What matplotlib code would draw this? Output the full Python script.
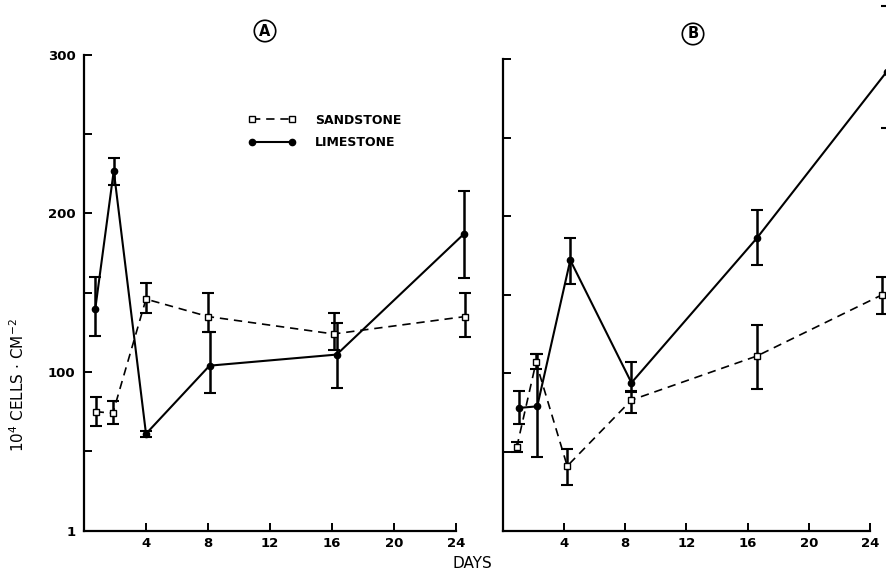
import numpy as np
import matplotlib
matplotlib.use("Agg")
import matplotlib.pyplot as plt

# --- datos (10^4 celulas / cm^2) ---
# panel A
a_sand_days = [0.75, 1.86, 4.0, 8.0, 16.1, 24.6]
a_sand_vals = [75, 74, 146, 135, 124, 135]
a_sand_lo = [9, 7, 9, 10, 10, 13]
a_sand_hi = [9, 8, 10, 15, 13, 15]

a_lime_days = [0.73, 1.92, 4.0, 8.1, 16.3, 24.5]
a_lime_vals = [140, 227, 61, 104, 111, 187]
a_lime_lo = [17, 9, 2, 17, 21, 28]
a_lime_hi = [20, 8, 2, 21, 20, 27]

# panel B
b_sand_days = [0.9, 2.16, 4.2, 8.4, 16.6, 24.8]
b_sand_vals = [53, 107, 41, 83, 111, 150]
b_sand_lo = [3, 4, 12, 8, 21, 12]
b_sand_hi = [3, 5, 11, 5, 20, 11]

b_lime_days = [1.05, 2.24, 4.4, 8.4, 16.6, 25.1]
b_lime_vals = [78, 79, 172, 94, 186, 292]
b_lime_lo = [10, 32, 15, 5, 17, 36]
b_lime_hi = [11, 33, 14, 13, 18, 42]

x_ticks = [4, 8, 12, 16, 20, 24]
y_ticks = [0, 50, 100, 150, 200, 250, 300]
y_labels_a = ["1", "", "100", "", "200", "", "300"]

plt.rcParams["font.family"] = ["DejaVu Sans"]

fig = plt.figure(figsize=(8.87, 5.78), dpi=100)
W, H = 887.0, 578.0


def make_axes(x0, x24, y0, y300):
    return fig.add_axes([x0 / W, (H - y0) / H, (x24 - x0) / W, (y0 - y300) / H])


ax_a = make_axes(84, 456, 530.5, 55)
ax_b = make_axes(503, 870, 530.5, 59)


def draw_series(ax, days, vals, lo, hi, sandstone, label):
    if sandstone:
        style = dict(color="black", lw=1.2, ls=(0, (5, 3.5)), marker="s", ms=4,
                     mfc="white", mec="black", mew=1.0)
    else:
        style = dict(color="black", lw=1.5, ls="-", marker="o", ms=4.5,
                     mfc="black", mec="black")
    ax.plot(days, vals, label=label, clip_on=False, zorder=3, **style)
    eb = ax.errorbar(days, vals, yerr=[lo, hi], fmt="none", ecolor="black",
                     elinewidth=1.8, capsize=4, capthick=1.5, zorder=2)
    for artist in eb.lines[1] + eb.lines[2]:
        artist.set_clip_on(False)


draw_series(ax_a, a_sand_days, a_sand_vals, a_sand_lo, a_sand_hi, True, "SANDSTONE")
draw_series(ax_a, a_lime_days, a_lime_vals, a_lime_lo, a_lime_hi, False, "LIMESTONE")
draw_series(ax_b, b_sand_days, b_sand_vals, b_sand_lo, b_sand_hi, True, "SANDSTONE")
draw_series(ax_b, b_lime_days, b_lime_vals, b_lime_lo, b_lime_hi, False, "LIMESTONE")

for ax in (ax_a, ax_b):
    ax.set_xlim(0, 24)
    ax.set_ylim(0, 300)
    ax.set_xticks(x_ticks)
    ax.set_xticklabels([str(t) for t in x_ticks], fontsize=9.5, fontweight="bold")
    ax.set_yticks(y_ticks)
    ax.spines["top"].set_visible(False)
    ax.spines["right"].set_visible(False)
    ax.spines["left"].set_linewidth(1.6)
    ax.spines["bottom"].set_linewidth(1.6)
    ax.tick_params(direction="in", length=6, width=1.4, pad=5)
    ax.patch.set_alpha(0)

ax_a.set_yticklabels(y_labels_a, fontsize=9.5, fontweight="bold")
ax_a.tick_params(axis="y", pad=6)
ax_b.set_yticklabels([])

leg = ax_a.legend(loc="upper left", bbox_to_anchor=(0.41, 0.9), frameon=False,
                  numpoints=2, handlelength=3.8, handletextpad=1.6, labelspacing=0.75,
                  prop={"size": 9, "weight": "bold"})

# letras de panel en circulo
circ = dict(boxstyle="circle,pad=0.22", fc="white", ec="black", lw=1.2)
fig.text(265 / W, 1 - 31 / H, "A", ha="center", va="center", fontsize=10.5,
         fontweight="bold", bbox=circ)
fig.text(693 / W, 1 - 34 / H, "B", ha="center", va="center", fontsize=10.5,
         fontweight="bold", bbox=circ)

fig.text(18 / W, 1 - 385 / H, r"10$^4$ CELLS $\cdot$ CM$^{-2}$", rotation=90,
         ha="center", va="center", fontsize=11)
fig.text(472 / W, 1 - 564 / H, "DAYS", ha="center", va="center", fontsize=11)

fig.savefig("out.png", dpi=100)
